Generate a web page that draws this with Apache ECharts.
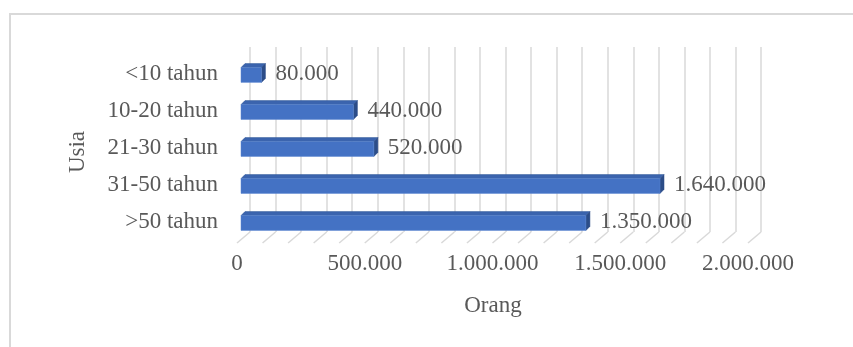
<!DOCTYPE html>
<html>
<head>
<meta charset="utf-8">
<script src="https://cdn.jsdelivr.net/npm/echarts@6/dist/echarts.min.js"></script>
<style>html,body{margin:0;padding:0;background:#fff}#c{width:853px;height:347px}</style>
</head>
<body>
<div id="c"></div>
<script>
const categories = ['<10 tahun', '10-20 tahun', '21-30 tahun', '31-50 tahun', '>50 tahun'];
const values = [80000, 440000, 520000, 1640000, 1350000];
const floorTicks = [0, 100000, 200000, 300000, 400000, 500000, 600000, 700000, 800000, 900000, 1000000,
  1100000, 1200000, 1300000, 1400000, 1500000, 1600000, 1700000, 1800000, 1900000, 2000000];
const labelTicks = [0, 500000, 1000000, 1500000, 2000000];
const xTitle = 'Orang';
const yTitle = 'Usia';
const xMin = 0, xMax = 2000000, xStep = 100000;

const FONT = '"Liberation Serif", "Times New Roman", serif';
const FS = 23;
const TXT = '#595959';
const DX = 4, DY = 4;       // bar depth
const BX = 9, BY = 8;       // back wall offset

function fmt(v) { return String(v).replace(/\B(?=(\d{3})+(?!\d))/g, '.'); }

const chart = echarts.init(document.getElementById('c'));
chart.setOption({
  animation: false,
  backgroundColor: '#fff',
  graphic: [{
    type: 'rect', shape: { x: 10, y: 14, width: 900, height: 400 },
    style: { fill: 'none', stroke: '#d9d9d9', lineWidth: 2 }, silent: true
  }, {
    type: 'text', x: 493, y: 306,
    style: { text: xTitle, fontFamily: FONT, fontSize: FS, fill: TXT, align: 'center', verticalAlign: 'middle' }
  }, {
    type: 'text', x: 78, y: 152, rotation: Math.PI / 2,
    style: { text: yTitle, fontFamily: FONT, fontSize: FS, fill: TXT, align: 'center', verticalAlign: 'middle' }
  }],
  grid: [
    { left: 241, width: 511, top: 55, height: 185 },
    { left: 241 + BX, width: 511, top: 55 - BY, height: 185 }
  ],
  xAxis: [{
    gridIndex: 0, type: 'value', min: xMin, max: xMax, interval: xStep,
    axisLine: { show: false }, axisTick: { show: false }, splitLine: { show: false },
    axisLabel: {
      margin: 12, fontFamily: FONT, fontSize: FS, color: TXT, padding: [0, 8, 0, 0],
      formatter: v => labelTicks.indexOf(v) >= 0 ? fmt(v) : ''
    }
  }, {
    gridIndex: 1, type: 'value', min: xMin, max: xMax, interval: xStep,
    axisLine: { show: false }, axisTick: { show: false }, axisLabel: { show: false },
    splitLine: { show: true, lineStyle: { color: '#d9d9d9', width: 1.5 } }
  }],
  yAxis: [{
    gridIndex: 0, type: 'category', data: categories, inverse: true,
    axisLine: { show: false }, axisTick: { show: false },
    axisLabel: { margin: 23, fontFamily: FONT, fontSize: FS, color: TXT }
  }, {
    gridIndex: 1, type: 'category', data: categories, inverse: true, show: false
  }],
  series: [{
    type: 'custom', xAxisIndex: 0, yAxisIndex: 0, silent: true, z: 1,
    data: floorTicks.map(t => [t, categories.length - 1]),
    renderItem: function (params, api) {
      const p = api.coord([api.value(0), 0]);
      const cs = params.coordSys;
      const yb = cs.y + cs.height;
      return {
        type: 'line',
        shape: { x1: p[0] - 4, y1: yb + 3, x2: p[0] + BX, y2: yb - BY },
        style: { stroke: '#d9d9d9', lineWidth: 1.5 }
      };
    }
  }, {
    type: 'custom', xAxisIndex: 0, yAxisIndex: 0, z: 5,
    data: values.map((v, i) => [v, i]),
    renderItem: function (params, api) {
      const v = api.value(0);
      const c = api.coord([v, api.value(1)]);
      const o = api.coord([0, api.value(1)]);
      const band = api.size([0, 1])[1];
      const h = band * 0.4;
      const y0 = c[1] - h / 2 + 1.5, y1 = y0 + h;
      const x0 = o[0], x1 = c[0];
      return {
        type: 'group',
        children: [
          { type: 'polygon', shape: { points: [[x0, y0], [x1, y0], [x1 + DX, y0 - DY], [x0 + DX, y0 - DY]] },
            style: { fill: '#3b64ae', stroke: '#2f5597', lineWidth: 0.5 } },
          { type: 'polygon', shape: { points: [[x1, y0], [x1 + DX, y0 - DY], [x1 + DX, y1 - DY], [x1, y1]] },
            style: { fill: '#2c4d88', stroke: '#2c4d88', lineWidth: 0.5 } },
          { type: 'rect', shape: { x: x0, y: y0, width: x1 - x0, height: h },
            style: { fill: '#4472c4', stroke: '#5b86d0', lineWidth: 0.5 } },
          { type: 'text', x: x1 + DX + 10, y: c[1],
            style: { text: fmt(v), fontFamily: FONT, fontSize: FS, fill: TXT,
                     align: 'left', verticalAlign: 'middle' } }
        ]
      };
    }
  }]
});
</script>
</body>
</html>
